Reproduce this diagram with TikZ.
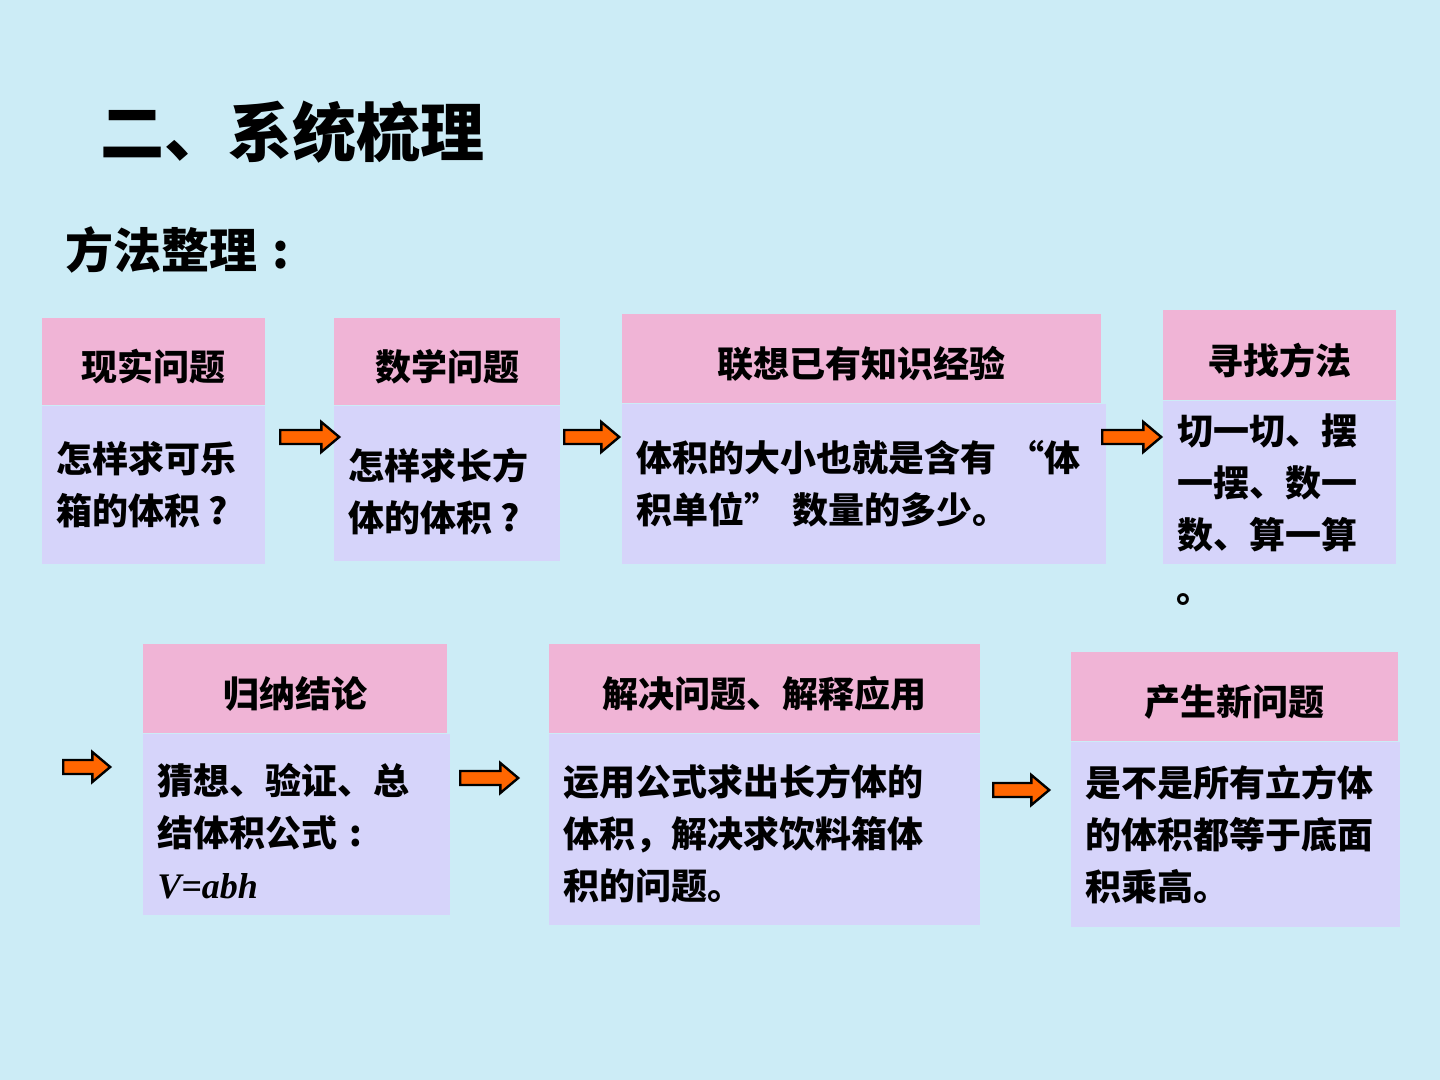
\documentclass[tikz,border=0pt]{standalone}
\usepackage{fontspec}
\setmainfont{Noto Sans CJK SC}
\newfontfamily\formulafont{Liberation Serif}
\usetikzlibrary{shapes.arrows, positioning}
\definecolor{bgblue}{RGB}{204, 236, 246}
\definecolor{headpink}{RGB}{240, 180, 214}
\definecolor{bodylav}{RGB}{214, 212, 250}
\definecolor{arrorange}{RGB}{255, 102, 0}
% centred full-width punctuation
\newcommand\fwq{\makebox[1em]{?}}
\newcommand\fwc{\makebox[1em]{:}}

\begin{document}
\begin{tikzpicture}[
  x=0.5pt, y=-0.5pt,
  title/.style={anchor=west, inner sep=0pt, font=\fontsize{32}{38}\selectfont\bfseries},
  subtitle/.style={anchor=west, inner sep=0pt, font=\fontsize{24}{28}\selectfont\bfseries},
  head/.style={
    rectangle, fill=headpink, anchor=north west, inner sep=0pt,
    text height=20pt, text depth=1pt,
    font=\fontsize{18}{22}\selectfont\bfseries
  },
  body/.style={
    rectangle, fill=bodylav, anchor=north west, inner xsep=7pt, inner ysep=0pt,
    align=left, font=\fontsize{18}{26}\selectfont\bfseries
  },
  blockarr/.style={
    single arrow, fill=arrorange, draw=black, line width=1.2pt,
    single arrow head extend=4pt, single arrow tip angle=80,
    inner xsep=0pt, inner ysep=2.9pt, anchor=west
  },
]

% background
\fill[bgblue] (0, 0) rectangle (1440, 1080);

% headings
\node[title]    (ttl) at (100, 132) {二、系统梳理};
\node[subtitle] (sub) at (65, 250)  {方法整理\fwc};

% 1. real problem
\node[head, minimum width=111.5pt, minimum height=43.5pt] (h1) at (42, 318) {现实问题};
\node[body, text width=97.5pt, minimum height=79pt] (b1) at (h1.south west)
  {怎样求可乐\\箱的体积\fwq};

% 2. maths problem
\node[head, minimum width=113pt, minimum height=43.5pt] (h2) at (334, 318) {数学问题};
\node[body, text width=99pt, minimum height=77.5pt] (b2) at (h2.south west)
  {\rule{0pt}{24pt}怎样求长方\\体的体积\fwq};

% 3. known experience
\node[head, minimum width=239.5pt, minimum height=44.5pt] (h3) at (622, 314) {联想已有知识经验};
\node[body, text width=228pt, minimum height=80pt] (b3) at (h3.south west)
  {体积的大小也就是含有 “体\\积单位” 数量的多少。};

% 4. find a method
\node[head, minimum width=116.5pt, minimum height=45pt] (h4) at (1163, 310) {寻找方法};
\node[body, text width=102.5pt, minimum height=81.5pt] (b4) at (h4.south west)
  {切一切、摆\\一摆、数一\\数、算一算};
\node[anchor=west, inner sep=0pt, font=\fontsize{18}{22}\selectfont\bfseries] (dot) at (1176, 600) {。};

% 5. conclusion
\node[head, minimum width=152pt, minimum height=44.5pt] (h5) at (143, 644) {归纳结论};
\node[body, text width=139.5pt, minimum height=90.5pt] (b5) at (h5.south west)
  {\rule{0pt}{22pt}猜想、验证、总\\结体积公式\fwc\\{\formulafont\bfseries\itshape V=abh}};

% 6. solve and apply
\node[head, minimum width=215.5pt, minimum height=44.5pt] (h6) at (549, 644) {解决问题、解释应用};
\node[body, text width=201.5pt, minimum height=95.5pt] (b6) at (h6.south west)
  {\rule{0pt}{20pt}运用公式求出长方体的\\体积，解决求饮料箱体\\积的问题。};

% 7. new problem
\node[head, minimum width=163.5pt, minimum height=44.5pt] (h7) at (1071, 652) {产生新问题};
\node[body, text width=150.5pt, minimum height=92.5pt] (b7) at (h7.south west)
  {是不是所有立方体\\的体积都等于底面\\积乘高。};

% block arrows
\node[blockarr, minimum height=29.5pt] (a1) at (279, 437)  {};
\node[blockarr, minimum height=27.5pt] (a2) at (563, 437)  {};
\node[blockarr, minimum height=29.5pt] (a3) at (1101, 437) {};
\node[blockarr, minimum height=23.5pt] (a4) at (62, 767)   {};
\node[blockarr, minimum height=29pt]   (a5) at (459, 778)  {};
\node[blockarr, minimum height=28pt]   (a6) at (992, 790)  {};

\end{tikzpicture}
\end{document}
